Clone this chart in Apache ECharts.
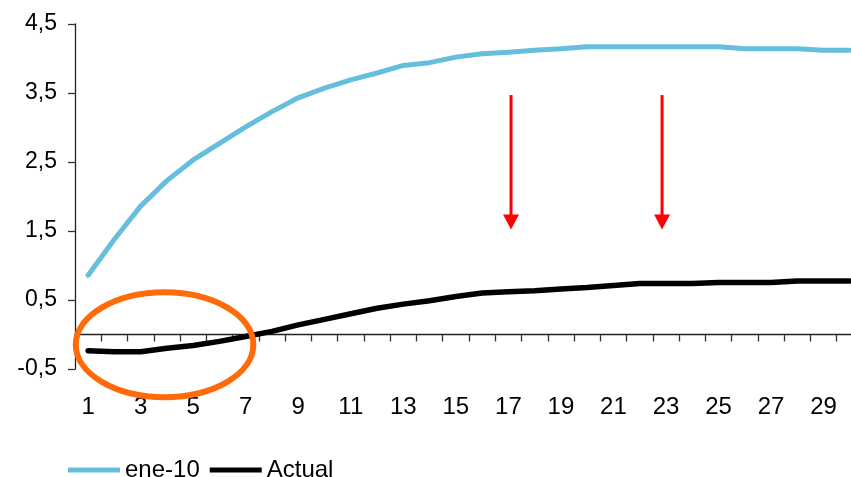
<!DOCTYPE html>
<html>
<head>
<meta charset="utf-8">
<script src="https://cdn.jsdelivr.net/npm/echarts@6/dist/echarts.min.js"></script>
<style>
  html, body { margin: 0; padding: 0; background: #fff; overflow: hidden; width: 851px; height: 477px; }
  /* the plot runs slightly past the right edge of the page */
  #chart { width: 863px; height: 477px; }
</style>
</head>
<body>
<div id="chart"></div>
<script>
// Day of month along the category axis
const days = ['1','2','3','4','5','6','7','8','9','10','11','12','13','14','15',
              '16','17','18','19','20','21','22','23','24','25','26','27','28','29','30'];

// Expected path priced in January ("ene-10")
const ene10 = [0.86, 1.38, 1.86, 2.23, 2.53, 2.77, 3.01, 3.23, 3.43, 3.57,
               3.69, 3.79, 3.90, 3.94, 4.02, 4.07, 4.09, 4.12, 4.14, 4.17,
               4.17, 4.17, 4.17, 4.17, 4.17, 4.14, 4.14, 4.14, 4.12, 4.12];

// Current path ("Actual")
const actual = [-0.235, -0.25, -0.25, -0.20, -0.16, -0.10, -0.03, 0.045, 0.14, 0.22,
                0.30, 0.38, 0.44, 0.49, 0.55, 0.60, 0.62, 0.635, 0.66, 0.68,
                0.71, 0.74, 0.74, 0.74, 0.755, 0.755, 0.755, 0.775, 0.775, 0.775];

// Value-axis ticks
const yTicks = { min: -0.5, max: 4.5, step: 1 };

const FONT = "'Liberation Sans', Arial, sans-serif";
const BLUE = '#66bedd';

const chart = echarts.init(document.getElementById('chart'), null, { renderer: 'canvas' });

const option = {
  animation: false,
  backgroundColor: '#fff',
  textStyle: { fontFamily: FONT, color: '#000' },
  grid: { left: 75, top: 24, right: 0, bottom: 108, containLabel: false, outerBoundsMode: 'none' },
  legend: {
    left: 63,
    top: 453,
    icon: 'rect',
    itemWidth: 52,
    itemHeight: 5,
    itemGap: 10,
    textStyle: { fontFamily: FONT, fontSize: 24, color: '#000' },
    data: ['ene-10', 'Actual']
  },
  xAxis: [
    {
      // labels along the bottom of the plot
      type: 'category',
      data: days,
      boundaryGap: true,
      position: 'bottom',
      axisLine: { show: false, onZero: false },
      axisTick: { show: false },
      axisLabel: { interval: 1, margin: 26, fontSize: 24, color: '#000', fontFamily: FONT }
    },
    {
      // the zero line with its category ticks
      type: 'category',
      data: days,
      boundaryGap: true,
      position: 'bottom',
      axisLine: { show: true, onZero: true, lineStyle: { color: '#222', width: 1.3 } },
      axisTick: { show: true, interval: 0, inside: false, length: 7, lineStyle: { color: '#333', width: 1.3 } },
      axisLabel: { show: false }
    }
  ],
  yAxis: {
    type: 'value',
    min: yTicks.min,
    max: yTicks.max,
    interval: yTicks.step,
    axisLine: { show: true, onZero: false, lineStyle: { color: '#222', width: 1.3 } },
    axisTick: { show: true, length: 7, lineStyle: { color: '#333', width: 1.3 } },
    splitLine: { show: false },
    axisLabel: {
      margin: 18,
      fontSize: 23,
      color: '#000',
      fontFamily: FONT,
      formatter: v => v.toFixed(1).replace('.', ',')
    }
  },
  series: [
    {
      name: 'ene-10',
      type: 'line',
      data: ene10,
      symbol: 'none',
      lineStyle: { color: BLUE, width: 5, cap: 'round' },
      itemStyle: { color: BLUE },
      z: 3
    },
    {
      name: 'Actual',
      type: 'line',
      data: actual,
      symbol: 'none',
      lineStyle: { color: '#000', width: 5.5, cap: 'round' },
      itemStyle: { color: '#000' },
      z: 3
    }
  ]
};

chart.setOption(option);

// Annotations: two downward arrows and a ring around the early dip,
// anchored in category-index / value space and converted to pixels.
const arrowAnchors = [
  { col: 16.1, from: 3.47, to: 1.52 },
  { col: 21.85, from: 3.47, to: 1.52 }
];
const ring = { col: 2.91, value: -0.148, halfCols: 3.38, halfValue: 0.76 };

function colToX(c) {
  const i = Math.floor(c);
  const f = c - i;
  const x0 = chart.convertToPixel({ xAxisIndex: 0 }, i);
  const x1 = chart.convertToPixel({ xAxisIndex: 0 }, i + 1);
  return x0 + (x1 - x0) * f;
}
function valToY(v) {
  return chart.convertToPixel({ yAxisIndex: 0 }, v);
}

const graphics = [];
arrowAnchors.forEach(a => {
  const x = colToX(a.col);
  const yTop = valToY(a.from);
  const yTip = valToY(a.to);
  const headH = 15, headW = 16;
  graphics.push({
    type: 'line',
    shape: { x1: x, y1: yTop, x2: x, y2: yTip - headH + 1 },
    style: { stroke: '#ff0000', lineWidth: 3 },
    z: 10
  });
  graphics.push({
    type: 'polygon',
    shape: { points: [[x - headW / 2, yTip - headH], [x + headW / 2, yTip - headH], [x, yTip]] },
    style: { fill: '#ff0000' },
    z: 10
  });
});

const cx = colToX(ring.col);
const cy = valToY(ring.value);
const rx = colToX(ring.col + ring.halfCols) - cx;
const ry = valToY(ring.value - ring.halfValue) - cy;
graphics.push({
  type: 'ellipse',
  shape: { cx: cx, cy: cy, rx: rx, ry: ry },
  style: { fill: 'none', stroke: '#ff6a0a', lineWidth: 6 },
  z: 11
});

chart.setOption({ graphic: graphics });
</script>
</body>
</html>
